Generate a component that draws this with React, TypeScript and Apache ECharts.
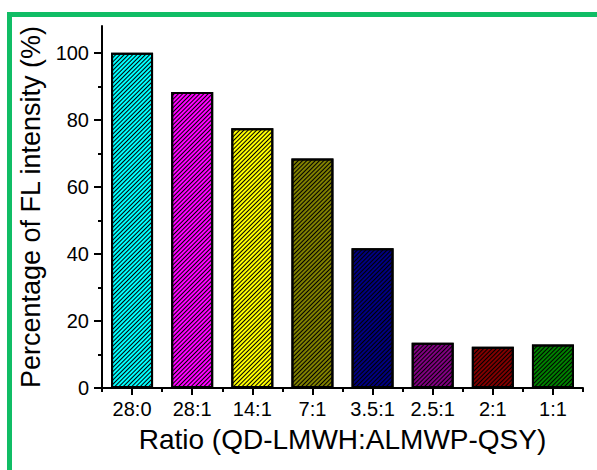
import React, { useEffect, useRef } from "react";
import * as echarts from "echarts";

const categories = ["28:0", "28:1", "14:1", "7:1", "3.5:1", "2.5:1", "2:1", "1:1"];
const values = [100, 88.3, 77.5, 68.5, 41.7, 13.5, 12.3, 13.0];
const barColors = ["#00ffff", "#ff00ff", "#ffff00", "#808000", "#000080", "#800080", "#800000", "#008000"];
const yMajorTicks = [0, 20, 40, 60, 80, 100];
const yMinorTicks = [10, 30, 50, 70, 90];

const FONT = "'Liberation Sans', Arial, sans-serif";

export default function App() {
  const ref = useRef<HTMLDivElement>(null);
  useEffect(() => {
    if (!ref.current) return;
    const chart = echarts.init(ref.current, undefined, { renderer: "svg" });
    const decal = {
      symbol: "rect",
      symbolSize: 1,
      color: "#000000",
      dashArrayX: [1, 0],
      dashArrayY: [1, 2],
      rotation: -Math.PI / 4,
    };
    const axisLine = { show: true, lineStyle: { color: "#000", width: 2 } };
    chart.setOption({
      animation: false,
      backgroundColor: "#ffffff",
      grid: { left: 102, right: 14, top: 26, bottom: 82 },
      graphic: [
        { type: "rect", shape: { x: 7, y: 12, width: 590, height: 5 }, style: { fill: "#10bd65" }, silent: true },
        { type: "rect", shape: { x: 7, y: 12, width: 5, height: 458 }, style: { fill: "#10bd65" }, silent: true },
      ],
      xAxis: [
        {
          type: "category",
          data: categories,
          boundaryGap: true,
          axisLine,
          axisTick: { show: true, alignWithLabel: true, length: 7, lineStyle: { color: "#000", width: 2 } },
          axisLabel: { color: "#000", fontSize: 20, fontFamily: FONT, margin: 11 },
          name: "Ratio (QD-LMWH:ALMWP-QSY)",
          nameLocation: "middle",
          nameGap: 37,
          nameTextStyle: { color: "#000", fontSize: 28, fontFamily: FONT },
        },
        {
          type: "category",
          data: categories,
          position: "bottom",
          boundaryGap: true,
          axisLine: { show: false },
          axisTick: { show: true, length: 4, lineStyle: { color: "#000", width: 2 } },
          axisLabel: { show: false },
        },
      ],
      yAxis: [
        {
          type: "value",
          min: 0,
          max: 108,
          interval: 20,
          axisLine,
          splitLine: { show: false },
          axisTick: { show: true, length: 8, customValues: yMajorTicks, lineStyle: { color: "#000", width: 2 } },
          axisLabel: {
            color: "#000",
            fontSize: 20,
            fontFamily: FONT,
            margin: 13,
            formatter: (v: number) => (yMajorTicks.indexOf(v) >= 0 ? String(v) : ""),
          },
          name: "Percentage of FL intensity (%)",
          nameLocation: "middle",
          nameGap: 49,
          nameTextStyle: { color: "#000", fontSize: 27, fontFamily: FONT },
        },
        {
          type: "value",
          min: 0,
          max: 108,
          interval: 20,
          position: "left",
          axisLine: { show: false },
          splitLine: { show: false },
          axisTick: { show: true, length: 4, customValues: yMinorTicks, lineStyle: { color: "#000", width: 2 } },
          axisLabel: { show: false },
        },
      ],
      series: [
        {
          type: "bar",
          xAxisIndex: 0,
          yAxisIndex: 0,
          barWidth: 42,
          data: values.map((v, i) => ({
            value: v,
            itemStyle: { color: barColors[i], borderColor: "#000", borderWidth: 2, decal },
          })),
        },
      ],
    });
    return () => chart.dispose();
  }, []);
  return <div ref={ref} style={{ position: "fixed", left: 0, top: 0, width: 597, height: 470 }} />;
}
